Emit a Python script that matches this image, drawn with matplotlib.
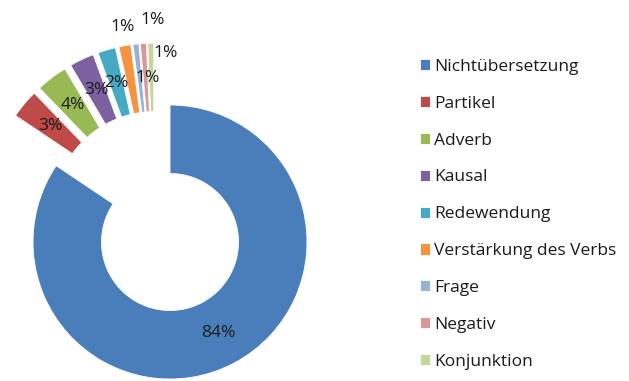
import matplotlib
matplotlib.use("Agg")
import matplotlib.pyplot as plt
import numpy as np

plt.rcParams['font.family'] = ['Open Sans', 'DejaVu Sans']

categories = ["Nichtübersetzung", "Partikel", "Adverb", "Kausal", "Redewendung",
              "Verstärkung des Verbs", "Frage", "Negativ", "Konjunktion"]
shares = [84.4, 3.4, 3.7, 2.9, 2.1, 1.4, 0.7, 0.7, 0.7]
colors = ["#4A7EBB", "#BE4B48", "#98B954", "#7D60A0", "#46AAC5",
          "#F69240", "#95B3D7", "#D99795", "#C3D69B"]

W, H, DPI = 629, 381, 100
fig = plt.figure(figsize=(W / DPI, H / DPI), dpi=DPI)
ax = fig.add_axes([0, 0, 1, 1])

# the big segment's ring sits at the data origin; every segment is exploded
# by the same amount, so the pie centre lies up-left of the origin
cx_px, cy_px, r_px = 170, 242, 137
EXPLODE = 0.24
total = sum(shares)
bounds = np.concatenate([[0], np.cumsum(shares)]) / total
mids = 90 - 360 * (bounds[:-1] + bounds[1:]) / 2
centre = (-EXPLODE * np.cos(np.deg2rad(mids[0])),
          -EXPLODE * np.sin(np.deg2rad(mids[0])))

wedges, _ = ax.pie(shares, colors=colors, startangle=90, counterclock=False,
                   explode=[EXPLODE] * len(shares), radius=1.0, center=centre,
                   wedgeprops=dict(width=0.5, edgecolor="white", linewidth=0.6))

ax.set_xlim(-cx_px / r_px, (W - cx_px) / r_px)
ax.set_ylim(-(H - cy_px) / r_px, cy_px / r_px)
ax.set_aspect("equal")
ax.axis("off")

# percentage labels at the middle of each segment; the thin ones are nudged
# aside so they don't collide
label_nudge = [(0, 0), (0, 0), (0, 0), (0, 0), (0, 0),
               (-0.06, 0.38), (0.06, 0.0), (0.05, 0.42), (0.10, 0.18)]
for i, v in enumerate(shares):
    th = np.deg2rad(mids[i])
    rr = 0.75 + EXPLODE
    x = centre[0] + rr * np.cos(th) + label_nudge[i][0]
    y = centre[1] + rr * np.sin(th) + label_nudge[i][1]
    ax.text(x, y, f"{round(100 * v / total):.0f}%", ha="center", va="center",
            fontsize=12.5, color="#1a1a1a")

leg = ax.legend(wedges, categories, loc="upper left",
                bbox_to_anchor=(413 / W, 1 - 52 / H), bbox_transform=fig.transFigure,
                frameon=False, fontsize=12.5, handlelength=0.6, handleheight=0.6,
                handletextpad=0.2, labelspacing=1.2, borderaxespad=0)
for t in leg.get_texts():
    t.set_color("#1a1a1a")

fig.savefig("out.png", dpi=DPI)
